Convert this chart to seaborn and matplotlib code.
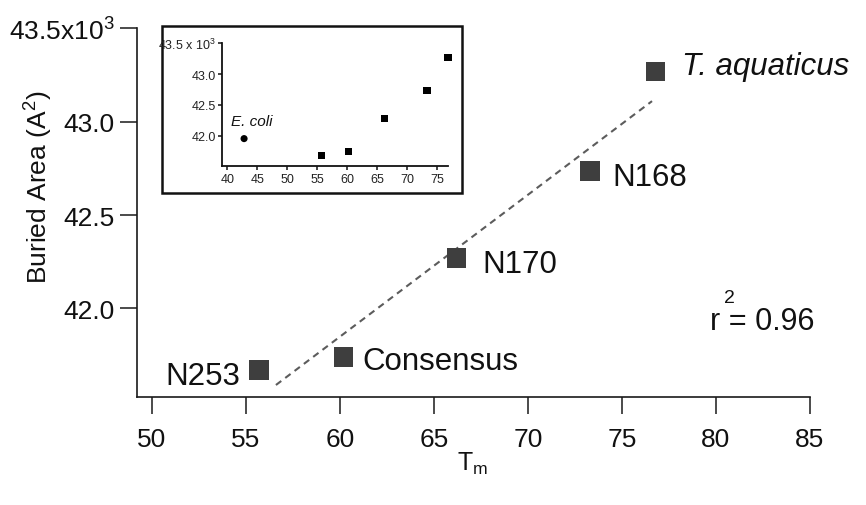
import numpy as np
import pandas as pd
import matplotlib
matplotlib.use("Agg")
import matplotlib.pyplot as plt
from matplotlib.patches import Rectangle
import seaborn as sns

# ---------------- data ----------------
variants = ["N253", "Consensus", "N170", "N168", "T. aquaticus"]
tm = [55.7, 60.2, 66.2, 73.3, 76.8]
buried_area = [41.67, 41.74, 42.27, 42.735, 43.27]

ecoli_label = ["E. coli"]
ecoli_tm = [42.8]
ecoli_area = [41.95]

fit_tm = [56.6, 76.6]
fit_area = [41.59, 43.11]
r2_value = "0.96"

main_xticks = [50, 55, 60, 65, 70, 75, 80, 85]
main_yticks = [42.0, 42.5, 43.0, 43.5]
main_ytick_labels = ["42.0", "42.5", "43.0", "43.5x10$^{3}$"]

inset_xticks = [40, 45, 50, 55, 60, 65, 70, 75]
inset_yticks = [42.0, 42.5, 43.0, 43.5]
inset_ytick_labels = ["42.0", "42.5", "43.0", "43.5 x 10$^{3}$"]

# ---------------- style ----------------
sns.set_theme(style="ticks")
plt.rcParams["font.family"] = ["Liberation Sans", "DejaVu Sans"]
plt.rcParams["mathtext.fontset"] = "custom"
plt.rcParams["mathtext.rm"] = "Liberation Sans"
plt.rcParams["mathtext.it"] = "Liberation Sans:italic"
plt.rcParams["mathtext.default"] = "regular"

df = pd.DataFrame({"variant": variants, "tm": tm, "area": buried_area})
df_ecoli = pd.DataFrame({"variant": ecoli_label, "tm": ecoli_tm, "area": ecoli_area})

fig = plt.figure(figsize=(8.66, 5.06), dpi=100)
fig.patch.set_facecolor("white")

# ---------------- main axes ----------------
ax = fig.add_axes([0.1586, 0.2128, 0.7767, 0.7293])
ax.set_facecolor("white")

sns.lineplot(x=fit_tm, y=fit_area, ax=ax, color="#5c5c5c", linewidth=1.5,
             linestyle=(0, (3.2, 2.4)))
sns.scatterplot(data=df, x="tm", y="area", ax=ax, marker="s", s=196,
                color="#3e3e3e", edgecolor="none", legend=False, zorder=3)

ax.set_xlim(49.23, 85)
ax.set_ylim(41.524, 43.5)
ax.set_xticks(main_xticks)
ax.set_xticklabels([str(v) for v in main_xticks])
ax.set_yticks(main_yticks)
ax.set_yticklabels(main_ytick_labels)
ax.set_xlabel("")
ax.set_ylabel("")
for side in ["top", "right"]:
    ax.spines[side].set_visible(False)
for side in ["left", "bottom"]:
    ax.spines[side].set_linewidth(1.2)
    ax.spines[side].set_color("#1a1a1a")
ax.tick_params(axis="both", direction="out", length=12.5, width=1.1,
               color="#1a1a1a", labelsize=19, labelcolor="#111111")
ax.tick_params(axis="x", pad=9)
ax.tick_params(axis="y", pad=4)

label_offsets = [(-13.5, -10.3), (13.5, -8.3), (18.5, -9.9), (16.2, -9.7), (19.0, -1.9)]
for name, x, y, off in zip(variants, tm, buried_area, label_offsets):
    ha = "right" if off[0] < 0 else "left"
    style = "italic" if name.startswith("T.") else "normal"
    ax.annotate(name, (x, y), xytext=off, textcoords="offset points",
                ha=ha, va="baseline", fontsize=22.5, fontstyle=style,
                color="#111111")

ax.text(79.7, 41.89, f"r = {r2_value}", fontsize=22, ha="left", va="baseline",
        color="#111111")
ax.text(80.7, 42.035, "2", fontsize=14, ha="center", va="baseline",
        color="#111111")

fig.text(39 / 866, 1 - 187 / 506, "Buried Area (A$^{2}$)", rotation=90,
         ha="center", va="center", fontsize=19, color="#111111")
fig.text(473 / 866, 1 - 464 / 506, "T$_{m}$", ha="center", va="center",
         fontsize=18, color="#111111")

# ---------------- inset ----------------
box = Rectangle((161.7 / 866, 1 - 194 / 506), 300 / 866, 166.7 / 506,
                transform=fig.transFigure, facecolor="white",
                edgecolor="#111111", linewidth=1.8, zorder=1)
fig.add_artist(box)

axin = fig.add_axes([0.256, 0.6694, 0.2617, 0.2431], zorder=2)
axin.set_facecolor("none")
sns.scatterplot(data=df, x="tm", y="area", ax=axin, marker="s", s=26,
                color="black", edgecolor="none", legend=False, clip_on=False)
sns.scatterplot(data=df_ecoli, x="tm", y="area", ax=axin, marker="o", s=26,
                color="black", edgecolor="none", legend=False, clip_on=False)
axin.annotate(ecoli_label[0], (ecoli_tm[0], ecoli_area[0]), xytext=(-9.6, 10.1),
              textcoords="offset points", ha="left", va="baseline",
              fontsize=11, fontstyle="italic", color="#111111")

axin.set_xlim(39.07, 76.85)
axin.set_ylim(41.5, 43.5)
axin.set_xticks(inset_xticks)
axin.set_xticklabels([str(v) for v in inset_xticks])
axin.set_yticks(inset_yticks)
axin.set_yticklabels(inset_ytick_labels)
axin.set_xlabel("")
axin.set_ylabel("")
for side in ["top", "right"]:
    axin.spines[side].set_visible(False)
for side in ["left", "bottom"]:
    axin.spines[side].set_linewidth(1.3)
    axin.spines[side].set_color("#111111")
axin.tick_params(axis="both", direction="out", length=3, width=1.1,
                 color="#111111", labelsize=9, labelcolor="#222222", pad=1)
axin.tick_params(axis="x", pad=2)

fig.savefig("out.png", dpi=100, facecolor="white")
